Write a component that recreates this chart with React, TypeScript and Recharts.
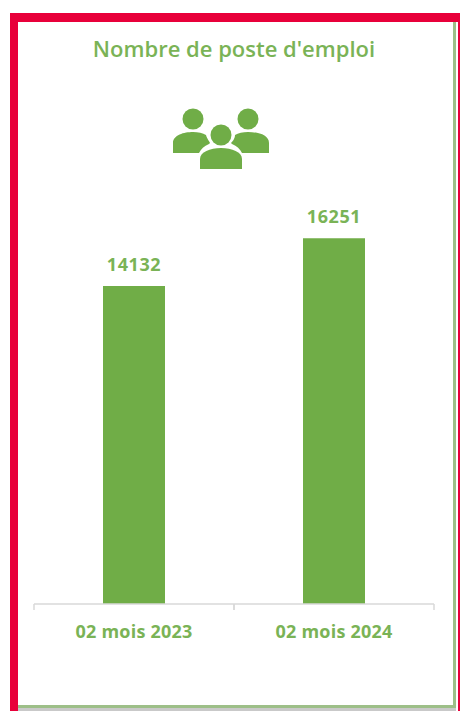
import { BarChart, Bar, XAxis, YAxis, LabelList } from 'recharts';

const categories = ['02 mois 2023', '02 mois 2024'];
const postes = [14132, 16251];
const yDomain = [0, 18000];

const chartData = categories.map((name, i) => ({ name, postes: postes[i] }));

const GREEN = '#70AD47';
const TEXT_GREEN = '#7AB356';
const AXIS_GREY = '#D9D9D9';
const FONT = '"Open Sans", sans-serif';
const HALF_BAND = 100;

const PeopleIcon = () => (
    <svg width={98} height={62} viewBox="0 0 98 62" style={{ position: 'absolute', left: 172, top: 108 }}>
        <g fill={GREEN}>
            <circle cx={21} cy={11} r={10.5} />
            <path d="M1 45 V35 C1 27 12 24 21 24 C26 24 31 25 34 27 C35 31 38 34 38 35 L37 36 C32 38 29 41 27 45 Z" />
            <circle cx={76} cy={11} r={10.5} />
            <path d="M97 45 V35 C97 27 86 24 76 24 C71 24 66 25 63 27 C63 31 60 34 59 35 L60 36 C65 38 68 41 70 45 Z" />
            <circle cx={49} cy={27} r={10.5} />
            <path d="M28 61 V51 C28 44 38 40 49 40 C60 40 70 44 70 51 V61 Z" />
        </g>
    </svg>
);

// ticks sit on the band edges, labels on the band centre
const BandTick = ({ x, payload }: any) => (
    <g>
        <line x1={x - HALF_BAND} x2={x - HALF_BAND} y1={604} y2={610} stroke={AXIS_GREY} strokeWidth={1.5} />
        <line x1={x + HALF_BAND} x2={x + HALF_BAND} y1={604} y2={610} stroke={AXIS_GREY} strokeWidth={1.5} />
        <text x={x} y={638} textAnchor="middle" fill={TEXT_GREEN} fontFamily={FONT} fontWeight={700} fontSize={18} letterSpacing={0.2}>
            {payload.value}
        </text>
    </g>
);

export default function App() {
    return (
        <div style={{ position: 'absolute', left: 0, top: 0, width: 460, height: 711, background: '#fff', overflow: 'hidden' }}>
            {/* red frame */}
            <div style={{ position: 'absolute', left: 10, top: 13, width: 450, height: 698, background: '#E8003A' }} />
            <div style={{ position: 'absolute', left: 18, top: 22, width: 440, height: 689, background: '#fff' }} />
            <div style={{ position: 'absolute', left: 18, top: 708, width: 438, height: 3, background: '#C9C9C9' }} />
            {/* card with green edge */}
            <div style={{ position: 'absolute', left: 18, top: 22, width: 435, height: 683, background: '#fff', borderRight: '3px solid #9DBF88', borderBottom: '3px solid #9DBF88' }} />
            <div style={{ position: 'absolute', left: 18, top: 26, width: 434, textAlign: 'center', fontFamily: FONT, fontWeight: 600, fontSize: 22, lineHeight: '44px', color: TEXT_GREEN, transform: 'translateX(-1px)' }}>
                Nombre de poste d'emploi
            </div>
            <PeopleIcon />
            <div style={{ position: 'absolute', left: 0, top: 0 }}>
                <BarChart
                    width={460}
                    height={711}
                    data={chartData}
                    margin={{ top: 199, right: 26, left: 34, bottom: 77 }}
                    barCategoryGap={69}
                >
                    <YAxis hide domain={yDomain} />
                    <XAxis
                        dataKey="name"
                        axisLine={{ stroke: AXIS_GREY, strokeWidth: 1.5 }}
                        tickLine={false}
                        tick={<BandTick />}
                        interval={0}
                    />
                    <Bar dataKey="postes" fill={GREEN} isAnimationActive={false}>
                        <LabelList dataKey="postes" position="top" offset={15} fill={TEXT_GREEN} fontFamily={FONT} fontWeight={700} fontSize={18} letterSpacing={0.6} />
                    </Bar>
                </BarChart>
            </div>
        </div>
    );
}
